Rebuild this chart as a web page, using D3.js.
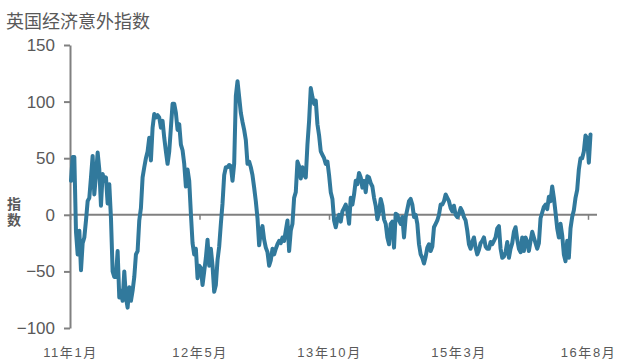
<!DOCTYPE html>
<html>
<head>
<meta charset="utf-8">
<script src="https://cdn.jsdelivr.net/npm/d3@7/dist/d3.min.js"></script>
<style>
  html, body { margin: 0; padding: 0; background: #fff; }
  svg { display: block; }
  text { font-family: "Liberation Sans", Arial, "Noto Sans CJK SC", sans-serif; }
</style>
</head>
<body>
<svg id="chart" width="617" height="361"></svg>
<script>
// UK economic surprise index, evenly spaced observations (Jan 2011 - Aug 2016)
const surprise2011 = [30, 51, 51, -15, -35, -14, -49, -25, -20, -5, 12, 15, 33, 52, 18, 35, 55, 40, 8, 36, 30, 33, 10, 27, -3, -50, -55, -55, -32, -73, -67, -76, -50, -73, -82, -64, -76, -67, -55, -35, -32, -5, 6, 33, 42, 50, 56, 68, 48, 77, 89, 86, 88, 86, 77, 83, 68, 56, 45, 56, 77, 98, 98];
const surprise2012 = [90, 75, 80, 62, 57, 45, 25, 40, 30, 1, -25, -35, -30, -56, -45, -47, -62, -50, -38, -22, -45, -30, -45, -68, -62, -40, -28, -8, 10, 35, 42, 42, 44, 43, 30, 45, 105, 118, 104, 90, 82, 75, 66, 45, 47, 42, 35, 24, 12, -3, -27, -15, -10, -22, -29, -33, -45, -40, -30, -35, -30, -26];
const surprise2013 = [-23, -25, -20, -23, -14, -5, -32, -14, -8, 15, 20, 47, 43, 32, 42, 35, 33, 62, 83, 112, 104, 98, 101, 80, 70, 56, 53, 50, 45, 47, 35, 20, 14, -5, -11, -4, 0, -6, 3, 6, 9, 3, -8, 15, 9, 18, 30, 27, 37, 33, 24, 30, 20, 34, 33, 28, 25, 15, 8, -4, 2, 14];
const surprise2015 = [8, -4, -8, -20, -26, -8, -6, -29, 1, 0, -5, -8, -2, -20, -2, 5, 12, 14, 9, -2, 0, -8, -26, -35, -38, -43, -37, -29, -26, -32, -28, -11, -8, -5, 0, 9, 9, 12, 18, 15, 12, 6, 3, 8, 0, -2, 1, 6, 3, -2, -5, -14, -26, -30, -24, -20, -29, -35, -31, -25, -23, -20];
const surprise2016 = [-28, -30, -30, -24, -26, -23, -20, -12, -10, -30, -38, -37, -33, -24, -38, -30, -25, -15, -11, -22, -30, -33, -20, -32, -20, -24, -32, -23, -15, -20, -25, -30, -25, -3, 2, 7, 9, 5, 16, 12, 25, 15, 2, -12, -20, -8, -18, -35, -41, -23, -38, -12, -2, 4, 15, 22, 40, 50, 50, 56, 70, 68, 46, 71];

const yTicks = [150, 100, 50, 0, -50, -100];
const xLabels = ["11年1月", "12年5月", "13年10月", "15年3月", "16年8月"];

const values = [].concat(surprise2011, surprise2012, surprise2013, surprise2015, surprise2016);

const svg = d3.select("#chart");
const axisColor = "#808080";
const textColor = "#595959";
const lineColor = "#31799c";

const y = d3.scaleLinear().domain([-100, 150]).range([328, 45]);
const x = d3.scaleLinear().domain([0, values.length - 1]).range([71, 590.5]);
const xCat = d3.scalePoint().domain(xLabels).range([70, 588]);

// title
svg.append("text")
  .attr("x", 6).attr("y", 28)
  .attr("font-size", 18)
  .attr("fill", textColor)
  .style("font-family", "'Noto Sans CJK SC', sans-serif")
  .text("英国经济意外指数");

// y axis title, written vertically
svg.append("text")
  .attr("x", 14).attr("y", 197)
  .attr("font-size", 14)
  .attr("font-weight", "bold")
  .attr("fill", textColor)
  .style("font-family", "'Noto Sans CJK SC', sans-serif")
  .style("writing-mode", "vertical-rl")
  .style("text-orientation", "upright")
  .style("letter-spacing", "2px")
  .text("指数");

// y axis
const yAxis = svg.append("g")
  .attr("transform", "translate(70,0)")
  .call(d3.axisLeft(y).tickValues(yTicks).tickSize(6).tickSizeOuter(0).tickPadding(9));
yAxis.select(".domain").attr("stroke", axisColor).attr("stroke-width", 2);
yAxis.selectAll(".tick line").attr("stroke", axisColor).attr("stroke-width", 2);
yAxis.selectAll(".tick text")
  .attr("font-size", 17)
  .attr("fill", textColor)
  .style("font-family", "'Liberation Sans', Arial, sans-serif");

// zero baseline with small tick marks
svg.append("line")
  .attr("x1", 70).attr("x2", 597)
  .attr("y1", y(0)).attr("y2", y(0))
  .attr("stroke", axisColor).attr("stroke-width", 2);
const xTickAxis = svg.append("g")
  .attr("transform", `translate(0,${y(0)})`)
  .call(d3.axisBottom(xCat).tickSize(5).tickFormat(""));
xTickAxis.select(".domain").remove();
xTickAxis.selectAll(".tick line").attr("stroke", axisColor).attr("stroke-width", 1.5);

// category labels along the bottom
const xLabelAxis = svg.append("g")
  .attr("transform", "translate(0,340)")
  .call(d3.axisBottom(xCat).tickSize(0).tickPadding(8));
xLabelAxis.select(".domain").remove();
xLabelAxis.selectAll(".tick text")
  .attr("font-size", 13)
  .attr("letter-spacing", "1.6px")
  .attr("fill", textColor);

// surprise index line
svg.append("path")
  .datum(values)
  .attr("fill", "none")
  .attr("stroke", lineColor)
  .attr("stroke-width", 4)
  .attr("stroke-linejoin", "round")
  .attr("stroke-linecap", "round")
  .attr("d", d3.line().x((d, i) => x(i)).y(d => y(d)));
</script>
</body>
</html>
